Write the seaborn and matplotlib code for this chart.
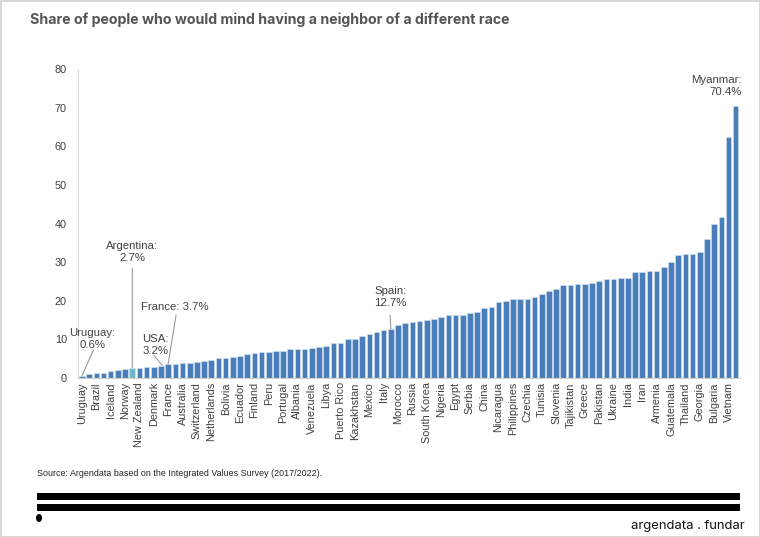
import matplotlib
matplotlib.use('Agg')
import matplotlib.pyplot as plt
import seaborn as sns
import pandas as pd
from matplotlib.patches import Rectangle, Ellipse

# data, sorted ascending; only every other country is labelled on the axis
countries = [
    'Uruguay', 'Sweden', 'Brazil', 'Andorra', 'Iceland', 'Chile', 'Norway', 'Argentina',
    'New Zealand', 'Canada', 'Denmark', 'USA', 'France', 'Germany', 'Australia', 'Great Britain',
    'Switzerland', 'Colombia', 'Netherlands', 'Mongolia', 'Bolivia', 'Cyprus', 'Ecuador', 'Austria',
    'Finland', 'Estonia', 'Peru', 'Croatia', 'Portugal', 'Slovakia', 'Albania', 'Lithuania',
    'Venezuela', 'Latvia', 'Libya', 'Belarus', 'Puerto Rico', 'Romania', 'Kazakhstan', 'Bosnia',
    'Mexico', 'Montenegro', 'Italy', 'Spain', 'Morocco', 'Hungary', 'Russia', 'Japan',
    'South Korea', 'Iraq', 'Nigeria', 'Lebanon', 'Egypt', 'Kyrgyzstan', 'Serbia', 'Ethiopia',
    'China', 'Kenya', 'Nicaragua', 'Turkey', 'Philippines', 'North Macedonia', 'Czechia', 'Malaysia',
    'Tunisia', 'Bangladesh', 'Slovenia', 'Zimbabwe', 'Tajikistan', 'Jordan', 'Greece', 'Indonesia',
    'Pakistan', 'Taiwan', 'Ukraine', 'Hong Kong', 'India', 'Singapore', 'Iran', 'Azerbaijan',
    'Armenia', 'Macau', 'Guatemala', 'Maldives', 'Thailand', 'Poland', 'Georgia', 'Moldova',
    'Bulgaria', 'Nepal', 'Vietnam', 'Myanmar',
]
values = [
    0.6, 1.0, 1.2, 1.4, 1.7, 2.0, 2.4, 2.7,
    2.7, 2.8, 2.9, 3.2, 3.7, 3.7, 3.8, 3.8,
    4.1, 4.4, 4.7, 5.1, 5.2, 5.4, 5.8, 6.1,
    6.6, 6.7, 6.7, 6.9, 6.9, 7.4, 7.5, 7.5,
    7.7, 8.1, 8.3, 9.1, 9.1, 10.2, 10.2, 10.8,
    11.4, 11.8, 12.3, 12.7, 13.6, 14.2, 14.5, 14.7,
    15.0, 15.4, 15.7, 16.2, 16.4, 16.4, 16.7, 17.1,
    18.2, 18.4, 19.6, 19.9, 20.4, 20.4, 20.5, 21.1,
    21.7, 22.6, 23.1, 24.0, 24.0, 24.3, 24.3, 24.7,
    25.2, 25.6, 25.7, 25.8, 25.9, 27.4, 27.5, 27.7,
    27.8, 28.7, 30.1, 31.8, 32.0, 32.0, 32.7, 35.9,
    39.8, 41.8, 62.4, 70.4,
]

highlight = 'Argentina'
BLUE = '#4a7ebb'
TEAL = '#6cb8c6'
GREY_TXT = '#404040'

df = pd.DataFrame({'country': countries, 'value': values})
palette = {c: (TEAL if c == highlight else BLUE) for c in countries}

sns.set_style('white')
plt.rcParams['font.family'] = ['Liberation Sans', 'DejaVu Sans']

fig = plt.figure(figsize=(7.6, 5.37), dpi=100)
fig.patch.set_edgecolor('#d8d8d8')
fig.patch.set_linewidth(2)
ax = fig.add_axes([78 / 760, 1 - 378 / 537, (740 - 78) / 760, (378 - 69) / 537])

sns.barplot(data=df, x='country', y='value', hue='country', palette=palette,
            legend=False, width=0.78, saturation=1, edgecolor='#d9e4f2',
            linewidth=0.4, ax=ax)

ax.set_xlim(-0.55, len(countries) - 0.4)
ax.set_ylim(0, 80)
ax.set_yticks(range(0, 81, 10))
ax.set_xticks(range(0, len(countries), 2))
ax.set_xticklabels(countries[::2], rotation=90, fontsize=7.8, color=GREY_TXT)
ax.tick_params(axis='y', labelsize=7.8, labelcolor=GREY_TXT, length=3,
               color='#e0e0e0', direction='in', pad=8)
ax.tick_params(axis='x', length=0, pad=3)
ax.set_xlabel('')
ax.set_ylabel('')
for s in ['top', 'right']:
    ax.spines[s].set_visible(False)
ax.spines['left'].set_color('#dcdcdc')
ax.spines['bottom'].set_color('#d0d0d0')
ax.spines['left'].set_linewidth(0.8)
ax.spines['bottom'].set_linewidth(0.8)

# annotations: text plus a thin grey leader line to the bar top
txt = dict(fontsize=8.2, color=GREY_TXT, linespacing=1.25, va='center')
line = dict(arrowstyle='-', color='#9a9a9a', lw=0.8, shrinkA=0, shrinkB=0)

ax.text(1.5, 10.1, 'Uruguay:\n0.6%', ha='center', multialignment='center', **txt)
ax.annotate('', xy=(0, values[0]), xytext=(1.6, 7.2), arrowprops=line)
ax.text(7, 32.6, 'Argentina:\n2.7%', ha='center', multialignment='center', **txt)
ax.annotate('', xy=(7, values[7]), xytext=(7, 28.4), arrowprops=line)
ax.text(12.9, 18.4, 'France: 3.7%', ha='center', **txt)
ax.annotate('', xy=(12, values[12]), xytext=(13.1, 16.3), arrowprops=line)
ax.text(8.4, 8.5, 'USA:\n3.2%', ha='left', multialignment='left', **txt)
ax.annotate('', xy=(11.2, values[11]), xytext=(10.0, 5.9), arrowprops=line)
ax.text(42.9, 21.0, 'Spain:\n12.7%', ha='center', multialignment='center', **txt)
ax.annotate('', xy=(43, values[43]), xytext=(42.9, 16.3), arrowprops=line)
ax.text(91.8, 75.6, 'Myanmar:\n70.4%', ha='right', multialignment='right', **txt)

# title and footer
fig.text(30 / 760, 1 - 20 / 537, 'Share of people who would mind having a neighbor of a different race',
         fontsize=10.2, fontweight='bold', color='#555555', family=['Inter', 'DejaVu Sans'],
         ha='left', va='center')
fig.text(37 / 760, 1 - 473 / 537,
         'Source: Argendata based on the Integrated Values Survey (2017/2022).',
         fontsize=6.4, color='#222222', ha='left', va='center')
for y0 in (493, 504):
    fig.add_artist(Rectangle((37 / 760, 1 - (y0 + 6.5) / 537), (740 - 37) / 760, 6.5 / 537,
                             transform=fig.transFigure, color='black', lw=0))
fig.add_artist(Ellipse((39 / 760, 1 - 518 / 537), 6 / 760, 8 / 537,
                       transform=fig.transFigure, color='black', lw=0))
fig.text(745 / 760, 1 - 526 / 537, 'argendata . fundar', fontsize=9.4, color='#111111',
         family=['Inter', 'DejaVu Sans'], ha='right', va='center')

fig.savefig('out.png', dpi=100)
